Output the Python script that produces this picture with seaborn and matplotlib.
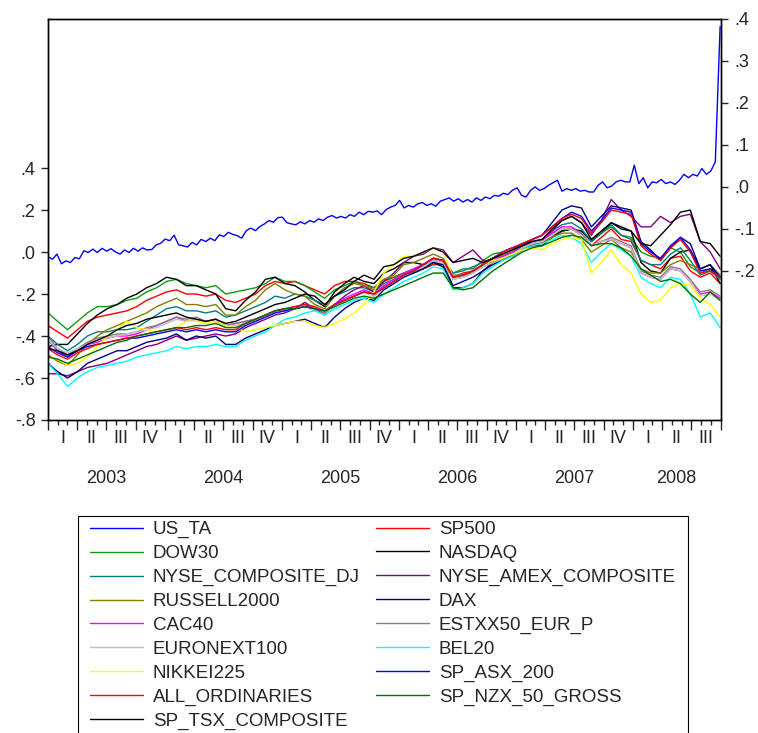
import numpy as np
import pandas as pd
import matplotlib
matplotlib.use("Agg")
import matplotlib.pyplot as plt
import matplotlib.transforms as mtransforms
from matplotlib.lines import Line2D
from matplotlib.patches import Rectangle
import seaborn as sns

sns.set_style("white")
plt.rcParams["font.family"] = ["Liberation Sans", "DejaVu Sans"]

# ---------------------------------------------------------------------------
# Data: US_TA (right scale, bi-weekly) and 16 stock indices (left scale, monthly)
# ---------------------------------------------------------------------------
us_ta = [
    -0.166, -0.172, -0.160, -0.183, -0.176, -0.180, -0.168, -0.171, -0.152, -0.156,
    -0.148, -0.156, -0.146, -0.153, -0.147, -0.155, -0.160, -0.150, -0.156, -0.146,
    -0.153, -0.145, -0.150, -0.149, -0.138, -0.134, -0.124, -0.128, -0.115, -0.138,
    -0.140, -0.143, -0.132, -0.138, -0.125, -0.130, -0.122, -0.128, -0.114, -0.118,
    -0.108, -0.113, -0.116, -0.122, -0.104, -0.098, -0.104, -0.094, -0.088, -0.080,
    -0.084, -0.073, -0.072, -0.085, -0.088, -0.090, -0.083, -0.088, -0.080, -0.084,
    -0.076, -0.080, -0.072, -0.068, -0.074, -0.070, -0.074, -0.066, -0.070, -0.060,
    -0.066, -0.058, -0.060, -0.057, -0.066, -0.054, -0.048, -0.044, -0.032, -0.050,
    -0.044, -0.048, -0.040, -0.037, -0.044, -0.040, -0.046, -0.034, -0.030, -0.026,
    -0.034, -0.028, -0.036, -0.030, -0.036, -0.026, -0.032, -0.024, -0.028, -0.020,
    -0.022, -0.015, -0.018, -0.008, -0.002, -0.020, -0.024, -0.008, 0.000, -0.008,
    -0.004, 0.004, 0.010, 0.016, -0.010, -0.004, -0.008, -0.004, -0.010, -0.008,
    -0.012, -0.012, 0.004, 0.012, -0.002, 0.002, 0.012, 0.016, 0.012, 0.012,
    0.052, 0.008, 0.022, -0.002, 0.012, 0.010, 0.018, 0.008, 0.012, 0.006,
    0.016, 0.030, 0.022, 0.030, 0.026, 0.044, 0.030, 0.038, 0.060, 0.382,
]

sp500 = [
    -0.35, -0.38, -0.41, -0.37, -0.33, -0.31, -0.30, -0.29, -0.28, -0.26,
    -0.23, -0.21, -0.19, -0.18, -0.20, -0.20, -0.21, -0.20, -0.23, -0.24,
    -0.22, -0.20, -0.16, -0.14, -0.15, -0.14, -0.16, -0.18, -0.20, -0.16,
    -0.14, -0.14, -0.15, -0.17, -0.14, -0.12, -0.10, -0.09, -0.08, -0.06,
    -0.06, -0.12, -0.10, -0.09, -0.06, -0.03, -0.02, 0.00, 0.03, 0.04,
    0.04, 0.08, 0.10, 0.11, 0.08, 0.03, 0.07, 0.11, 0.06, 0.05,
    -0.04, -0.06, -0.08, -0.03, -0.02, -0.09, -0.12, -0.10, -0.15,
]
dow30 = [
    -0.29, -0.33, -0.37, -0.33, -0.29, -0.26, -0.26, -0.25, -0.23, -0.22,
    -0.19, -0.17, -0.14, -0.13, -0.15, -0.16, -0.17, -0.16, -0.20, -0.19,
    -0.18, -0.17, -0.15, -0.12, -0.14, -0.14, -0.16, -0.19, -0.22, -0.18,
    -0.16, -0.14, -0.16, -0.17, -0.13, -0.12, -0.10, -0.10, -0.08, -0.05,
    -0.04, -0.10, -0.08, -0.08, -0.04, -0.01, 0.00, 0.02, 0.03, 0.03,
    0.05, 0.09, 0.10, 0.11, 0.10, 0.06, 0.09, 0.12, 0.08, 0.07,
    0.00, -0.02, -0.03, 0.02, 0.00, -0.07, -0.10, -0.08, -0.12,
]
nasdaq = [
    -0.45, -0.44, -0.44, -0.39, -0.34, -0.30, -0.27, -0.25, -0.22, -0.20,
    -0.17, -0.15, -0.12, -0.13, -0.16, -0.16, -0.18, -0.20, -0.27, -0.28,
    -0.23, -0.19, -0.13, -0.12, -0.15, -0.16, -0.19, -0.23, -0.26, -0.19,
    -0.15, -0.12, -0.14, -0.15, -0.10, -0.08, -0.05, -0.05, -0.06, -0.05,
    -0.07, -0.17, -0.17, -0.15, -0.09, -0.05, -0.03, -0.02, 0.01, 0.03,
    0.03, 0.07, 0.10, 0.11, 0.10, 0.05, 0.09, 0.14, 0.11, 0.10,
    -0.05, -0.09, -0.10, -0.03, 0.00, 0.01, -0.08, -0.06, -0.15,
]
nyse_composite_dj = [
    -0.40, -0.44, -0.47, -0.44, -0.40, -0.38, -0.38, -0.37, -0.37, -0.36,
    -0.33, -0.30, -0.27, -0.26, -0.28, -0.28, -0.29, -0.28, -0.31, -0.30,
    -0.28, -0.26, -0.24, -0.21, -0.22, -0.20, -0.21, -0.23, -0.25, -0.21,
    -0.19, -0.17, -0.17, -0.19, -0.15, -0.13, -0.10, -0.08, -0.06, -0.03,
    -0.04, -0.10, -0.09, -0.07, -0.05, -0.03, -0.01, 0.01, 0.04, 0.05,
    0.06, 0.10, 0.13, 0.14, 0.11, 0.05, 0.09, 0.13, 0.08, 0.06,
    -0.04, -0.06, -0.06, -0.01, 0.02, -0.04, -0.11, -0.09, -0.13,
]
nyse_amex_composite = [
    -0.58, -0.58, -0.59, -0.57, -0.55, -0.54, -0.53, -0.51, -0.49, -0.47,
    -0.45, -0.44, -0.42, -0.40, -0.42, -0.41, -0.40, -0.39, -0.40, -0.39,
    -0.36, -0.34, -0.32, -0.30, -0.29, -0.27, -0.24, -0.27, -0.30, -0.25,
    -0.21, -0.18, -0.16, -0.19, -0.14, -0.10, -0.05, -0.02, -0.01, 0.02,
    0.01, -0.05, -0.02, 0.01, -0.04, -0.05, -0.03, -0.01, 0.01, 0.03,
    0.05, 0.10, 0.15, 0.17, 0.14, 0.08, 0.15, 0.25, 0.20, 0.17,
    0.12, 0.12, 0.17, 0.14, 0.17, 0.18, 0.05, 0.00, -0.08,
]
russell2000 = [
    -0.49, -0.52, -0.54, -0.49, -0.44, -0.40, -0.37, -0.35, -0.33, -0.31,
    -0.29, -0.26, -0.24, -0.22, -0.25, -0.25, -0.26, -0.25, -0.30, -0.30,
    -0.26, -0.23, -0.18, -0.15, -0.18, -0.20, -0.21, -0.25, -0.27, -0.21,
    -0.17, -0.15, -0.16, -0.18, -0.13, -0.11, -0.06, -0.05, -0.03, -0.01,
    -0.03, -0.11, -0.11, -0.10, -0.06, -0.03, -0.02, 0.00, 0.03, 0.04,
    0.04, 0.07, 0.09, 0.09, 0.06, 0.00, 0.03, 0.06, 0.02, 0.00,
    -0.08, -0.10, -0.10, -0.06, -0.04, -0.06, -0.08, -0.06, -0.11,
]
dax = [
    -0.53, -0.57, -0.60, -0.57, -0.53, -0.51, -0.49, -0.47, -0.47, -0.45,
    -0.43, -0.42, -0.41, -0.39, -0.42, -0.40, -0.41, -0.40, -0.44, -0.44,
    -0.41, -0.39, -0.37, -0.35, -0.34, -0.33, -0.32, -0.34, -0.36, -0.31,
    -0.27, -0.24, -0.22, -0.23, -0.18, -0.15, -0.12, -0.10, -0.08, -0.05,
    -0.06, -0.16, -0.14, -0.12, -0.09, -0.06, -0.04, -0.01, 0.03, 0.06,
    0.08, 0.14, 0.20, 0.22, 0.21, 0.12, 0.17, 0.22, 0.21, 0.20,
    0.05, 0.01, -0.04, 0.02, 0.07, 0.04, -0.08, -0.06, -0.12,
]
cac40 = [
    -0.42, -0.47, -0.50, -0.47, -0.44, -0.43, -0.41, -0.40, -0.40, -0.39,
    -0.37, -0.35, -0.33, -0.31, -0.33, -0.32, -0.33, -0.32, -0.35, -0.34,
    -0.33, -0.32, -0.30, -0.28, -0.27, -0.26, -0.25, -0.27, -0.29, -0.25,
    -0.22, -0.20, -0.18, -0.20, -0.16, -0.13, -0.10, -0.08, -0.06, -0.03,
    -0.04, -0.12, -0.11, -0.09, -0.06, -0.04, -0.02, 0.00, 0.03, 0.05,
    0.06, 0.09, 0.12, 0.12, 0.09, 0.03, 0.05, 0.06, 0.04, 0.02,
    -0.10, -0.12, -0.13, -0.08, -0.09, -0.14, -0.20, -0.19, -0.22,
]
estxx50_eur_p = [
    -0.40, -0.46, -0.49, -0.46, -0.43, -0.41, -0.40, -0.39, -0.39, -0.38,
    -0.36, -0.35, -0.33, -0.31, -0.32, -0.31, -0.33, -0.32, -0.35, -0.34,
    -0.33, -0.32, -0.30, -0.28, -0.28, -0.27, -0.26, -0.27, -0.29, -0.26,
    -0.23, -0.21, -0.19, -0.21, -0.17, -0.14, -0.11, -0.09, -0.07, -0.04,
    -0.05, -0.13, -0.12, -0.10, -0.07, -0.05, -0.03, -0.01, 0.02, 0.04,
    0.05, 0.08, 0.11, 0.11, 0.09, 0.03, 0.05, 0.07, 0.05, 0.03,
    -0.09, -0.11, -0.12, -0.07, -0.08, -0.13, -0.19, -0.18, -0.21,
]
euronext100 = [
    -0.42, -0.46, -0.48, -0.46, -0.44, -0.42, -0.41, -0.40, -0.39, -0.38,
    -0.37, -0.36, -0.34, -0.32, -0.33, -0.32, -0.34, -0.33, -0.36, -0.35,
    -0.34, -0.33, -0.31, -0.29, -0.28, -0.27, -0.26, -0.28, -0.30, -0.26,
    -0.23, -0.21, -0.19, -0.21, -0.17, -0.14, -0.11, -0.09, -0.07, -0.04,
    -0.05, -0.13, -0.12, -0.10, -0.07, -0.05, -0.03, -0.01, 0.02, 0.04,
    0.05, 0.08, 0.11, 0.11, 0.08, 0.03, 0.05, 0.06, 0.04, 0.02,
    -0.10, -0.12, -0.13, -0.08, -0.09, -0.14, -0.21, -0.20, -0.23,
]
bel20 = [
    -0.53, -0.58, -0.64, -0.60, -0.57, -0.55, -0.54, -0.53, -0.52, -0.50,
    -0.49, -0.48, -0.47, -0.45, -0.46, -0.45, -0.45, -0.44, -0.45, -0.45,
    -0.42, -0.40, -0.38, -0.35, -0.32, -0.31, -0.29, -0.28, -0.30, -0.27,
    -0.25, -0.23, -0.22, -0.24, -0.20, -0.17, -0.14, -0.12, -0.10, -0.07,
    -0.08, -0.18, -0.17, -0.15, -0.10, -0.07, -0.04, -0.02, 0.01, 0.03,
    0.04, 0.06, 0.08, 0.07, 0.04, -0.05, 0.00, 0.04, 0.01, -0.02,
    -0.12, -0.15, -0.17, -0.12, -0.13, -0.20, -0.31, -0.29, -0.36,
]
nikkei225 = [
    -0.50, -0.51, -0.54, -0.53, -0.50, -0.45, -0.40, -0.37, -0.33, -0.36,
    -0.37, -0.38, -0.38, -0.36, -0.33, -0.33, -0.34, -0.33, -0.35, -0.36,
    -0.38, -0.37, -0.36, -0.35, -0.34, -0.33, -0.33, -0.35, -0.36, -0.34,
    -0.32, -0.29, -0.25, -0.19, -0.10, -0.06, -0.02, -0.02, 0.00, 0.02,
    0.00, -0.12, -0.11, -0.09, -0.06, -0.04, -0.03, -0.01, 0.01, 0.02,
    0.01, 0.04, 0.06, 0.07, 0.06, -0.10, -0.05, 0.01, -0.06, -0.10,
    -0.20, -0.24, -0.23, -0.17, -0.15, -0.16, -0.22, -0.25, -0.31,
]
sp_asx_200 = [
    -0.45, -0.48, -0.50, -0.47, -0.45, -0.44, -0.43, -0.42, -0.41, -0.41,
    -0.40, -0.39, -0.38, -0.37, -0.38, -0.37, -0.38, -0.37, -0.38, -0.38,
    -0.35, -0.33, -0.31, -0.29, -0.28, -0.27, -0.26, -0.27, -0.28, -0.25,
    -0.23, -0.21, -0.19, -0.20, -0.17, -0.14, -0.11, -0.09, -0.06, -0.03,
    -0.04, -0.12, -0.11, -0.09, -0.06, -0.03, 0.00, 0.02, 0.04, 0.06,
    0.08, 0.12, 0.16, 0.19, 0.17, 0.10, 0.15, 0.21, 0.20, 0.19,
    0.04, 0.00, -0.03, 0.03, 0.07, 0.01, -0.09, -0.08, -0.12,
]
all_ordinaries = [
    -0.46, -0.49, -0.51, -0.48, -0.46, -0.44, -0.43, -0.42, -0.41, -0.40,
    -0.39, -0.38, -0.37, -0.36, -0.37, -0.36, -0.37, -0.36, -0.37, -0.37,
    -0.34, -0.32, -0.30, -0.28, -0.27, -0.26, -0.25, -0.26, -0.28, -0.25,
    -0.23, -0.21, -0.19, -0.20, -0.17, -0.14, -0.11, -0.09, -0.06, -0.03,
    -0.04, -0.12, -0.11, -0.09, -0.06, -0.03, 0.00, 0.02, 0.04, 0.06,
    0.08, 0.12, 0.16, 0.18, 0.16, 0.09, 0.14, 0.20, 0.19, 0.18,
    0.03, -0.01, -0.04, 0.02, 0.06, 0.00, -0.10, -0.09, -0.12,
]
sp_nzx_50_gross = [
    -0.50, -0.51, -0.53, -0.51, -0.49, -0.47, -0.45, -0.43, -0.42, -0.40,
    -0.39, -0.38, -0.37, -0.36, -0.36, -0.35, -0.35, -0.34, -0.36, -0.36,
    -0.34, -0.32, -0.30, -0.28, -0.27, -0.27, -0.26, -0.27, -0.28, -0.26,
    -0.24, -0.22, -0.21, -0.22, -0.20, -0.18, -0.16, -0.14, -0.12, -0.10,
    -0.10, -0.17, -0.18, -0.17, -0.13, -0.09, -0.06, -0.03, 0.00, 0.02,
    0.03, 0.05, 0.07, 0.08, 0.07, 0.03, 0.04, 0.04, 0.02, -0.02,
    -0.08, -0.11, -0.14, -0.13, -0.15, -0.20, -0.24, -0.19, -0.23,
]
sp_tsx_composite = [
    -0.46, -0.47, -0.49, -0.47, -0.44, -0.42, -0.40, -0.37, -0.35, -0.34,
    -0.32, -0.31, -0.30, -0.29, -0.31, -0.32, -0.33, -0.32, -0.34, -0.33,
    -0.31, -0.29, -0.27, -0.25, -0.24, -0.22, -0.20, -0.21, -0.25, -0.21,
    -0.18, -0.14, -0.11, -0.13, -0.07, -0.06, -0.03, -0.02, 0.00, 0.02,
    0.00, -0.05, -0.04, -0.03, -0.05, -0.03, -0.01, 0.01, 0.03, 0.05,
    0.06, 0.11, 0.15, 0.17, 0.14, 0.06, 0.10, 0.14, 0.12, 0.10,
    0.04, 0.03, 0.08, 0.13, 0.19, 0.20, 0.05, 0.04, -0.02,
]

index_names = [
    "SP500", "DOW30", "NASDAQ", "NYSE_COMPOSITE_DJ", "NYSE_AMEX_COMPOSITE",
    "RUSSELL2000", "DAX", "CAC40", "ESTXX50_EUR_P", "EURONEXT100", "BEL20",
    "NIKKEI225", "SP_ASX_200", "ALL_ORDINARIES", "SP_NZX_50_GROSS",
    "SP_TSX_COMPOSITE",
]
index_values = [
    sp500, dow30, nasdaq, nyse_composite_dj, nyse_amex_composite, russell2000,
    dax, cac40, estxx50_eur_p, euronext100, bel20, nikkei225, sp_asx_200,
    all_ordinaries, sp_nzx_50_gross, sp_tsx_composite,
]
colors = {
    "US_TA": "#0000ff",
    "SP500": "#ff0000",
    "DOW30": "#129a12",
    "NASDAQ": "#000000",
    "NYSE_COMPOSITE_DJ": "#008080",
    "NYSE_AMEX_COMPOSITE": "#800080",
    "RUSSELL2000": "#808000",
    "DAX": "#000080",
    "CAC40": "#ff00ff",
    "ESTXX50_EUR_P": "#808080",
    "EURONEXT100": "#c0c0c0",
    "BEL20": "#00ffff",
    "NIKKEI225": "#ffff00",
    "SP_ASX_200": "#0000ff",
    "ALL_ORDINARIES": "#ff0000",
    "SP_NZX_50_GROSS": "#007000",
    "SP_TSX_COMPOSITE": "#000000",
}


def decimal_years(n):
    dates = pd.date_range("2003-01-01", "2008-09-30", periods=n)
    return 2003 + (dates - pd.Timestamp("2003-01-01")).days / 365.25


t_month = decimal_years(len(sp500))
t_ta = decimal_years(len(us_ta))

frames = []
for name, vals in zip(index_names, index_values):
    frames.append(pd.DataFrame({"t": t_month, "value": vals, "series": name}))
long_df = pd.concat(frames, ignore_index=True)

# ---------------------------------------------------------------------------
# Figure
# ---------------------------------------------------------------------------
W, H = 758, 733
fig = plt.figure(figsize=(W / 100, H / 100), dpi=100)
ax = fig.add_axes([48 / W, 1 - 420 / H, (720.5 - 48) / W, (420 - 19) / H])
ax2 = ax.twinx()

sns.lineplot(data=long_df, x="t", y="value", hue="series", hue_order=index_names,
             palette=colors, estimator=None, sort=False, legend=False,
             linewidth=1.0, ax=ax)
sns.lineplot(x=t_ta, y=us_ta, color=colors["US_TA"], estimator=None, sort=False,
             linewidth=1.0, ax=ax2)

ax.set_xlim(2003.0, 2008.75)
ax.set_ylim(-0.8, 1.11)
ax2.set_ylim(-0.555, 0.4)
for a in (ax, ax2):
    a.set_xlabel("")
    a.set_ylabel("")
    for sp in a.spines.values():
        sp.set_color("black")
        sp.set_linewidth(1.0)

fs = 13
left_ticks = [-0.8, -0.6, -0.4, -0.2, 0.0, 0.2, 0.4]
right_ticks = [-0.2, -0.1, 0.0, 0.1, 0.2, 0.3, 0.4]


def short_label(v):
    s = f"{v:.1f}"
    return s.replace("0.", ".")


ax.set_yticks(left_ticks)
ax.set_yticklabels([short_label(v) for v in left_ticks], fontsize=fs)
ax2.set_yticks(right_ticks)
ax2.set_yticklabels([short_label(v) for v in right_ticks], fontsize=fs)
ax.tick_params(axis="y", direction="out", length=5, width=1, pad=4, left=True, right=False)
ax2.tick_params(axis="y", direction="out", length=5, width=1, pad=5, right=True)

# time axis: months (minor), quarters (major); labels drawn as text
quarters = np.arange(2003.0, 2008.76, 0.25)
months = np.arange(2003.0, 2008.76, 1 / 12)
ax.set_xticks(quarters)
ax.set_xticks(months, minor=True)
ax.tick_params(axis="x", which="major", direction="out", length=7, width=1,
               labelbottom=False, bottom=True)
ax.tick_params(axis="x", which="minor", direction="out", length=3.5, width=1,
               bottom=True)
ax2.tick_params(axis="x", which="both", bottom=False, labelbottom=False)

trans = mtransforms.blended_transform_factory(ax.transData, ax.transAxes)
roman = ["I", "II", "III", "IV"]
years = [2003, 2004, 2005, 2006, 2007, 2008]
end = 2008.75
for yr in years:
    for q in range(4):
        c = yr + (q + 0.5) / 4
        if c < end:
            ax.text(c, -0.045, roman[q], transform=trans, ha="center", va="center",
                    fontsize=fs)
    ycenter = (yr + min(yr + 1, end)) / 2
    ax.text(ycenter, -0.145, str(yr), transform=trans, ha="center", va="center",
            fontsize=fs)

# legend laid out row by row in two columns, inside a plain box that runs
# past the bottom edge of the figure
all_names = ["US_TA"] + index_names
order = all_names[0::2] + all_names[1::2]
handles = [Line2D([0], [0], color=colors[n], lw=1.0) for n in order]
leg = fig.legend(handles, order, ncol=2, loc="upper left",
                 bbox_to_anchor=(90 / W, 1 - 521 / H), frameon=False,
                 fontsize=13.5, handlelength=2.83, handletextpad=0.53,
                 columnspacing=0.85, labelspacing=0.36, borderpad=0,
                 borderaxespad=0)
fig.patches.append(Rectangle((78 / W, -20 / H), (688 - 78) / W, (20 + 733 - 516) / H,
                             transform=fig.transFigure, fill=False,
                             edgecolor="black", linewidth=0.8))

fig.savefig("out.png", dpi=100)
